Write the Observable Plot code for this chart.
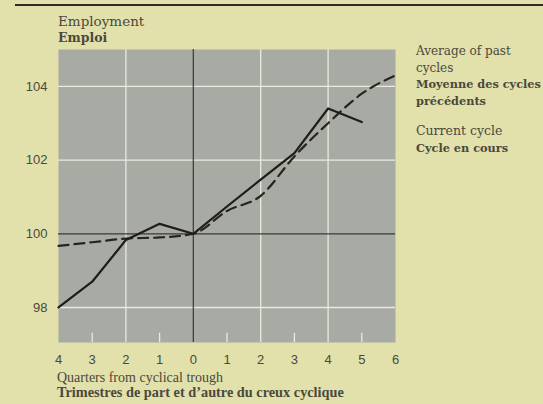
<!DOCTYPE html>
<html><head><meta charset="utf-8">
<script src="https://cdn.jsdelivr.net/npm/d3@7"></script>
<script src="https://cdn.jsdelivr.net/npm/@observablehq/plot@0.6"></script>
<style>
html,body{margin:0;padding:0;background:#e2e0ab;overflow:hidden;}
#chart svg{display:block;}
</style></head><body><div id="chart"></div>
<script>
const quarters = [-4, -3, -2, -1, 0, 1, 2, 3, 4, 5, 6];
const currentCycle = [98.0, 98.7, 99.83, 100.27, 100.0, 100.74, 101.47, 102.19, 103.4, 103.03, null];
const averagePast = [99.67, 99.77, 99.87, 99.9, 100.0, 100.62, 101.03, 102.1, 103.0, 103.8, 104.3];
const yTicks = [98, 100, 102, 104];
const whiteGridX = [-2, 2, 4];
const whiteGridY = [98, 102, 104];
const minorTicksX = [-3, -1, 1, 3, 5];

const titleLines = ["Employment", "Emploi"];
const xTitleLines = ["Quarters from cyclical trough", "Trimestres de part et d\u2019autre du creux cyclique"];
const legendAverage = ["Average of past", "cycles", "Moyenne des cycles", "précédents"];
const legendCurrent = ["Current cycle", "Cycle en cours"];

const current = quarters.map((q, i) => ({q, v: currentCycle[i]})).filter(d => d.v != null);
const average = quarters.map((q, i) => ({q, v: averagePast[i]}));

const yMin = 97.05, yMax = 105;
const ink = "#4a493c";

const chart = Plot.plot({
  width: 543,
  height: 404,
  marginLeft: 58,
  marginRight: 148,
  marginTop: 49,
  marginBottom: 62,
  style: {background: "transparent", fontFamily: "'Liberation Sans', sans-serif", fontSize: "13px", color: ink},
  x: {domain: [-4, 6]},
  y: {domain: [yMin, yMax]},
  marks: [
    Plot.frame({fill: "#a8aaa4", stroke: null}),
    Plot.ruleX(whiteGridX, {stroke: "#e9eae2", strokeWidth: 1.3}),
    Plot.ruleY(whiteGridY, {stroke: "#e9eae2", strokeWidth: 1.3}),
    Plot.ruleX(minorTicksX, {y1: yMin, y2: yMin + 0.25, stroke: "#e9eae2", strokeWidth: 1.3}),
    Plot.ruleY([100], {stroke: "#3a3a34", strokeWidth: 1.2}),
    Plot.ruleX([0], {stroke: "#3a3a34", strokeWidth: 1.2}),
    Plot.line(average, {x: "q", y: "v", stroke: "#26261f", strokeWidth: 2.2, strokeDasharray: "10,6", curve: "monotone-x"}),
    Plot.line(current, {x: "q", y: "v", stroke: "#1e1e18", strokeWidth: 2.2}),
    Plot.axisX(quarters, {tickSize: 0, tickPadding: 12, tickFormat: d => String(Math.abs(d)), label: null, fill: ink, fontSize: 13}),
    Plot.axisY(yTicks, {tickSize: 0, tickPadding: 11, label: null, fill: ink, fontSize: 13, letterSpacing: "1px"})
  ]
});
document.getElementById("chart").appendChild(chart);

const svg = d3.select(chart);
svg.append("line").attr("x1", 15).attr("x2", 543).attr("y1", 5).attr("y2", 5)
  .attr("stroke", "#2e2d25").attr("stroke-width", 2);

function addLines(lines, x, y0, step, boldFrom, family, sizeNormal, sizeBold) {
  lines.forEach((t, i) => {
    const bold = i >= boldFrom;
    svg.append("text").attr("x", x).attr("y", y0 + i * step)
      .attr("text-anchor", "start")
      .attr("font-family", family)
      .attr("font-size", bold ? sizeBold : sizeNormal)
      .attr("font-weight", bold ? "bold" : "normal")
      .attr("fill", ink)
      .text(t);
  });
}
const wideSerif = "'DejaVu Serif', serif";
const narrowSerif = "'Liberation Serif', serif";
addLines(titleLines, 58, 26, 16, 1, wideSerif, 13.5, 12.5);
addLines(legendAverage, 416, 55, 16.5, 2, wideSerif, 12, 11.3);
addLines(legendCurrent, 416, 135, 17, 1, wideSerif, 12.5, 11.3);
addLines(xTitleLines, 57, 382, 14.5, 1, narrowSerif, 14, 14.3);
</script></body></html>
